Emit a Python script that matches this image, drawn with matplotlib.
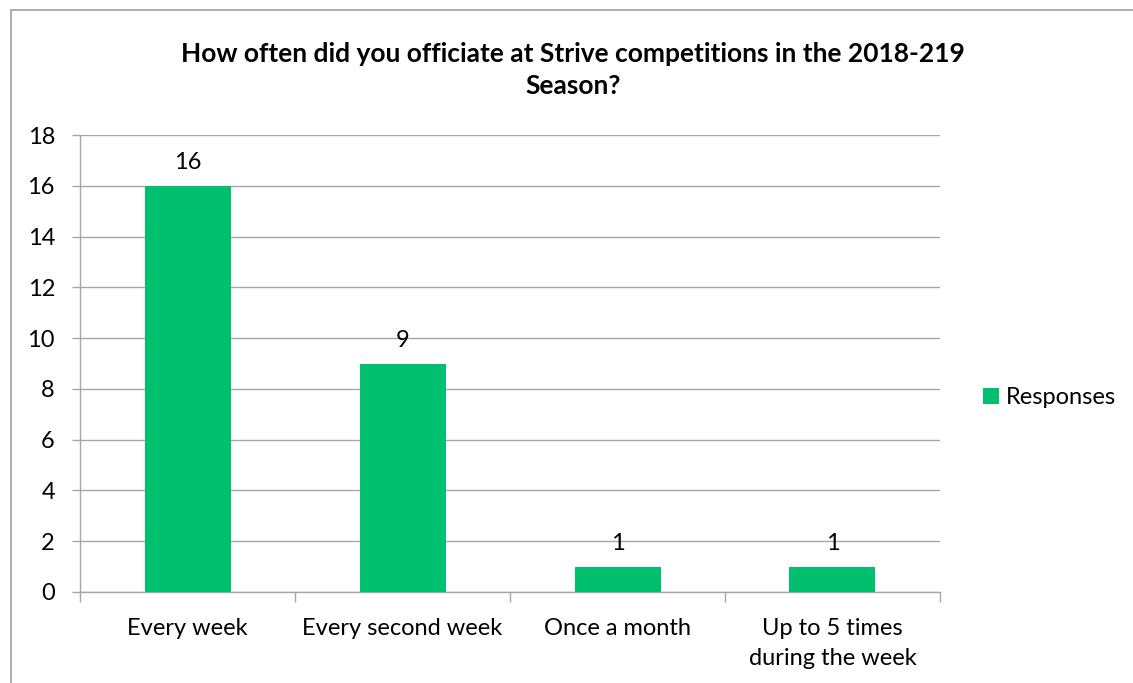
import matplotlib
matplotlib.use("Agg")
import matplotlib.pyplot as plt
from matplotlib.lines import Line2D
from matplotlib.patches import Patch

categories = ["Every week", "Every second week", "Once a month", "Up to 5 times\nduring the week"]
responses = [16, 9, 1, 1]
series_name = "Responses"
title = "How often did you officiate at Strive competitions in the 2018-219\nSeason?"
y_ticks = [0, 2, 4, 6, 8, 10, 12, 14, 16, 18]

BAR = "#00BF6F"
GRID = "#A6A6A6"
FONT = ["Lato", "DejaVu Sans"]
FS = 17
plt.rcParams["font.family"] = FONT

fig = plt.figure(figsize=(11.33, 6.83), dpi=100)
ax = fig.add_axes([80 / 1133, 1 - 592 / 683, 860 / 1133, 457 / 683])

x = list(range(len(categories)))
bars = ax.bar(x, responses, width=0.4, color=BAR, zorder=3)
for xi, v in zip(x, responses):
    ax.annotate(str(v), (xi, v), xytext=(0, 9), textcoords="offset points",
                ha="center", va="bottom", fontsize=FS, color="#000000")

ax.set_xlim(-0.5, len(categories) - 0.5)
ax.set_ylim(0, 18)
ax.set_yticks(y_ticks)
ax.tick_params(axis="y", length=6, width=1, color=GRID, labelsize=FS, pad=12)
ax.yaxis.grid(True, color=GRID, linewidth=1, zorder=0)

# category labels at centres, tick marks on category boundaries
ax.set_xticks(x)
ax.set_xticklabels(categories, fontsize=FS, linespacing=1.5)
ax.tick_params(axis="x", length=0, pad=19)
ax.set_xticks([i - 0.5 for i in range(len(categories) + 1)], minor=True)
ax.tick_params(axis="x", which="minor", length=7, width=1, color=GRID)

for s in ("top", "right"):
    ax.spines[s].set_visible(False)
for s in ("left", "bottom"):
    ax.spines[s].set_color(GRID)
    ax.spines[s].set_linewidth(1)

fig.text(573 / 1133, 1 - 70 / 683, title, ha="center", va="center",
         fontsize=19, fontweight="bold", linespacing=1.42)

ax.legend(handles=[Patch(facecolor=BAR, edgecolor="none", label=series_name)],
          loc="center left", bbox_to_anchor=(962 / 1133, 1 - 398 / 683),
          bbox_transform=fig.transFigure, frameon=False, fontsize=FS,
          handlelength=0.65, handleheight=0.65, handletextpad=0.3)

# chart frame (top and left edges)
fig.add_artist(Line2D([11 / 1133, 11 / 1133, 1132 / 1133],
                      [0, 1 - 10 / 683, 1 - 10 / 683],
                      transform=fig.transFigure, color=GRID, linewidth=1.3))

fig.savefig("out.png", dpi=100)
